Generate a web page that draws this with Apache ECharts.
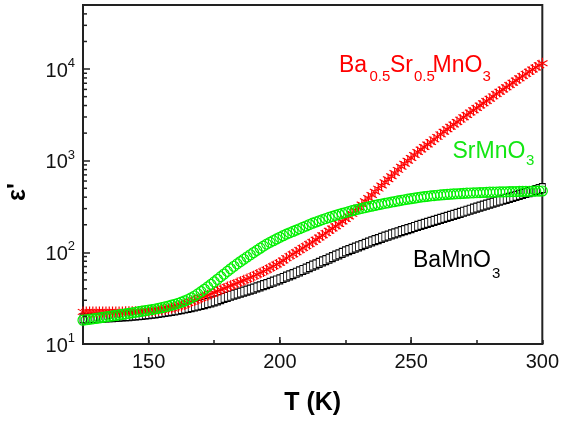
<!DOCTYPE html>
<html>
<head>
<meta charset="utf-8">
<script src="https://cdn.jsdelivr.net/npm/echarts@6/dist/echarts.min.js"></script>
<style>
  html, body { margin: 0; padding: 0; background: #fff; }
  #chart { width: 562px; height: 421px; }
</style>
</head>
<body>
<div id="chart"></div>
<script>
// 温度 (K)
const temps = [125,126.25,127.5,128.75,130,131.25,132.5,133.75,135,136.25,
  137.5,138.75,140,141.25,142.5,143.75,145,146.25,147.5,148.75,
  150,151.25,152.5,153.75,155,156.25,157.5,158.75,160,161.25,
  162.5,163.75,165,166.25,167.5,168.75,170,171.25,172.5,173.75,
  175,176.25,177.5,178.75,180,181.25,182.5,183.75,185,186.25,
  187.5,188.75,190,191.25,192.5,193.75,195,196.25,197.5,198.75,
  200,201.25,202.5,203.75,205,206.25,207.5,208.75,210,211.25,
  212.5,213.75,215,216.25,217.5,218.75,220,221.25,222.5,223.75,
  225,226.25,227.5,228.75,230,231.25,232.5,233.75,235,236.25,
  237.5,238.75,240,241.25,242.5,243.75,245,246.25,247.5,248.75,
  250,251.25,252.5,253.75,255,256.25,257.5,258.75,260,261.25,
  262.5,263.75,265,266.25,267.5,268.75,270,271.25,272.5,273.75,
  275,276.25,277.5,278.75,280,281.25,282.5,283.75,285,286.25,
  287.5,288.75,290,291.25,292.5,293.75,295,296.25,297.5,298.75,
  300];

// BaMnO3
const baMnO3 = [19.0,19.05,19.1,19.2,19.3,19.35,19.4,19.5,19.6,19.7,
  19.8,19.9,20.0,20.1,20.2,20.35,20.5,20.65,20.8,21.0,
  21.2,21.4,21.6,21.85,22.1,22.4,22.7,23.0,23.3,23.65,
  24.0,24.4,24.8,25.25,25.7,26.2,26.7,27.3,27.9,28.5,
  29.2,30.0,30.9,31.8,32.7,33.6,34.5,35.4,36.3,37.3,
  38.3,39.3,40.3,41.4,42.6,43.8,45.0,46.4,47.8,49.3,
  50.8,52.5,54.2,56.0,57.9,59.9,62.0,64.2,66.5,69.0,
  71.5,74.1,76.7,79.5,82.4,85.5,88.7,92.0,95.3,98.8,
  102.3,105.7,109.2,112.8,116.4,120.1,123.8,127.6,131.5,135.6,
  139.7,144,148.3,152.5,156.8,161.2,165.6,170.1,174.7,179.4,
  184.1,189.1,194.1,199.3,204.6,209.9,215.3,220.9,226.5,232.4,
  238.3,244.4,250.6,256.9,263.5,270.3,277.3,284.5,291.7,299.2,
  306.9,314.8,322.9,331.2,339.6,348.4,357.1,366,375,384.3,
  393.8,403.4,413,423.3,433.7,444.3,455,466,477.3,489,
  501];

// Ba0.5Sr0.5MnO3
const baSrMnO3 = [22.4,22.4,22.4,22.4,22.4,22.4,22.4,22.4,22.4,22.4,
  22.4,22.4,22.4,22.45,22.5,22.5,22.5,22.6,22.7,22.8,
  22.9,23.05,23.2,23.45,23.7,24.0,24.3,24.7,25.1,25.6,
  26.2,27.0,28.0,28.9,29.8,30.8,31.8,32.9,34.0,35.2,
  36.4,37.7,39.0,40.4,41.8,43.2,44.7,46.2,47.8,49.5,
  51.2,53.0,55.0,57.2,59.5,62.0,64.5,67.4,70.5,73.7,
  77,81.5,86.5,91,95.5,100.5,106,111.5,117,123.5,
  130,137.5,145,153.5,162,172,182,193,204,217,
  231,246,263,285,308,333,361,391,423,458,
  496,537,581,627,676,733,794,858,927,997,
  1072,1155,1245,1327,1413,1505,1603,1708,1820,1939,
  2065,2200,2344,2489,2642,2806,2979,3159,3350,3553,
  3767,3996,4236,4487,4753,5035,5333,5650,5984,6332,
  6699,7096,7516,7943,8395,8862,9354,9873,10420,10990,
  11590];

// SrMnO3
const srMnO3 = [18.2,18.4,18.6,18.8,19.0,19.25,19.5,19.75,20.0,20.25,
  20.5,20.75,21.0,21.3,21.6,21.9,22.2,22.5,22.8,23.1,
  23.4,23.75,24.1,24.5,24.9,25.4,25.9,26.5,27.1,27.8,
  28.6,29.5,30.6,31.9,33.4,35.2,37.2,39.5,42.0,44.7,
  47.6,50.8,54.3,58.0,62.0,66.1,70.5,74.9,79.4,84.1,
  89,94.1,99.5,105,111,117,123,128.5,134,140,
  146,152,158,163.5,169,175,181,187.5,194,201,
  208,214.5,221,227.5,234,240.5,247,253.5,260,266,
  272,278.5,285,291,297,302.5,308,313.5,319,325,
  331,336.5,342,347.5,353,358.5,364,369.5,375,380,
  385,390,396,400.5,405,409,413,416.5,420,423,
  426,428.5,431,433.5,436,438,440,442,444,445.5,
  447,448.5,450,451.5,453,454,455,456,457,458,
  459,460,461,462,463,463.5,464,465,466,466.5,
  467];

// 刻度
const xMajorTicks = [150, 200, 250];
const yMinorTicks = [20,30,40,50,60,70,80,90,
  200,300,400,500,600,700,800,900,
  2000,3000,4000,5000,6000,7000,8000,9000,
  20000,30000,40000];

const chart = echarts.init(document.getElementById('chart'));
const axisColor = '#222';
const font = "'Liberation Sans', Arial, sans-serif";

// 星形符号
const star = 'path://M4.5,0L5.5,0L5.5,10L4.5,10Z' +
  'M9.08,7.93L9.58,7.07L0.92,2.07L0.42,2.93Z' +
  'M9.08,2.07L9.58,2.93L0.92,7.93L0.42,7.07Z';

const pairs = arr => temps.map((t, i) => [t, arr[i]]);

const tickData = yMinorTicks.map(v => [125, v, 0])
  .concat(xMajorTicks.map(t => [t, 10, 1]));

function label(text, x, y, size, color) {
  return {
    type: 'text', x: x, y: y, z: 100,
    style: { text: text, fill: color, font: size + 'px ' + font, verticalAlign: 'middle', align: 'left' }
  };
}

const option = {
  animation: false,
  grid: {
    left: 83, right: 17, top: 5, bottom: 75,
    show: true, borderColor: axisColor, borderWidth: 2
  },
  xAxis: {
    type: 'value',
    min: 125, max: 300, interval: 25,
    name: 'T (K)',
    nameLocation: 'middle',
    nameGap: 47,
    nameTextStyle: { fontSize: 25, fontWeight: 'bold', color: '#000', fontFamily: font },
    axisLine: { lineStyle: { color: axisColor, width: 2 } },
    axisTick: { inside: true, length: 4, lineStyle: { color: axisColor, width: 1.5 } },
    axisLabel: {
      margin: 8, fontSize: 20, color: '#111', fontFamily: font,
      formatter: v => (v % 50 === 0 ? String(v) : '')
    },
    splitLine: { show: false }
  },
  yAxis: {
    type: 'log', logBase: 10,
    min: 10, max: 50000,
    axisLine: { lineStyle: { color: axisColor, width: 2 } },
    axisTick: { inside: true, length: 7, lineStyle: { color: axisColor, width: 1.5 } },
    axisLabel: {
      margin: 8, color: '#111', fontFamily: font,
      showMaxLabel: false,
      formatter: function (v) {
        const e = Math.round(Math.log10(v));
        if (Math.abs(Math.pow(10, e) - v) > 1e-6 * v) return '';
        return '{b|10}{s|' + e + '}';
      },
      rich: {
        b: { fontSize: 20, lineHeight: 24, verticalAlign: 'bottom', color: '#111', fontFamily: font },
        s: { fontSize: 13, lineHeight: 13, verticalAlign: 'top', color: '#111', fontFamily: font }
      }
    },
    splitLine: { show: false }
  },
  graphic: [
    {
      type: 'text', x: 18, y: 192, rotation: Math.PI / 2, z: 100,
      style: { text: "ε'", fill: '#000', font: 'bold 25px ' + font, align: 'center', verticalAlign: 'middle' }
    },
    label('Ba', 339, 65.5, 23, '#ff0000'),
    label('0.5', 369.5, 77, 15, '#ff0000'),
    label('Sr', 390, 65.5, 23, '#ff0000'),
    label('0.5', 414, 77, 15, '#ff0000'),
    label('MnO', 432.5, 65.5, 23, '#ff0000'),
    label('3', 482.5, 77, 15, '#ff0000'),
    label('SrMnO', 452.5, 151.5, 23, '#14e614'),
    label('3', 526, 161, 15, '#14e614'),
    label('BaMnO', 413, 261, 23, '#000'),
    label('3', 492, 274, 15, '#000')
  ],
  series: [
    {
      name: 'BaMnO3',
      type: 'line',
      data: pairs(baMnO3),
      lineStyle: { width: 0 },
      symbol: 'rect',
      symbolSize: [6, 9],
      showAllSymbol: true,
      itemStyle: { color: '#fff', borderColor: '#000', borderWidth: 1 }
    },
    {
      name: 'Ba0.5Sr0.5MnO3',
      type: 'line',
      data: pairs(baSrMnO3),
      lineStyle: { width: 0 },
      symbol: star,
      symbolSize: 11,
      showAllSymbol: true,
      itemStyle: { color: '#ff0000' }
    },
    {
      name: 'SrMnO3',
      type: 'line',
      data: pairs(srMnO3),
      lineStyle: { width: 0 },
      symbol: 'circle',
      symbolSize: 10,
      showAllSymbol: true,
      itemStyle: { color: 'rgba(255,255,255,0)', borderColor: '#00f000', borderWidth: 1.2 }
    },
    {
      name: 'ticks',
      type: 'custom',
      silent: true,
      clip: false,
      z: 10,
      data: tickData,
      renderItem: function (params, api) {
        const p = api.coord([api.value(0), api.value(1)]);
        const shape = api.value(2) === 0
          ? { x1: p[0], y1: p[1], x2: p[0] + 4, y2: p[1] }
          : { x1: p[0], y1: p[1], x2: p[0], y2: p[1] - 7 };
        return { type: 'line', shape: shape, style: { stroke: axisColor, lineWidth: 1.5 } };
      }
    }
  ]
};

chart.setOption(option);
window.addEventListener('resize', () => {
  chart.resize();
});
</script>
</body>
</html>
